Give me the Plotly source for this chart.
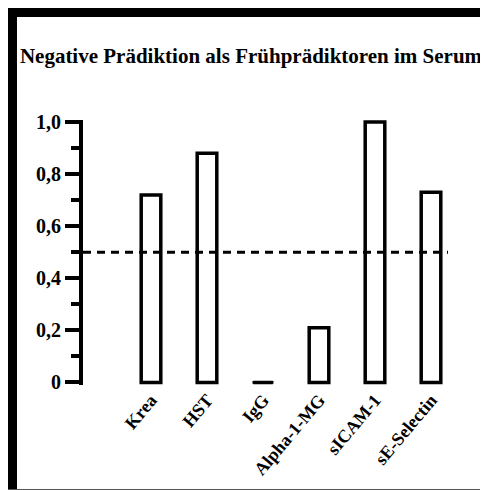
import plotly.graph_objects as go

# values
categories = ["Krea", "HST", "IgG", "Alpha-1-MG", "sICAM-1", "sE-Selectin"]
values = [0.72, 0.88, 0.0, 0.21, 1.0, 0.73]
y_tickvals = [0, 0.2, 0.4, 0.6, 0.8, 1.0]
y_ticktext = ["0", "0,2", "0,4", "0,6", "0,8", "1,0"]
threshold = 0.5

title = "Negative Prädiktion als Frühprädiktoren im Serum"
serif = "Liberation Serif"
bar_w = 0.35
bar_line = dict(color="black", width=3.5)

W, H = 480, 482  # page body adds an 8px margin
# 0 sits at y=374, 1 at y=114; pad the range a little so bar outlines are not clipped
y_lo, y_hi = -0.01, 1.008
L, R = 75, 440
T, B = 114 - (y_hi - 1) * 260, 374 - y_lo * 260

fig = go.Figure()

fig.add_trace(
    go.Bar(
        x=categories,
        y=values,
        width=bar_w,
        marker=dict(color="white", line=bar_line),
        cliponaxis=False,
        showlegend=False,
    )
)

# zero-height bars are skipped by plotly; give them a hairline height so the outline shows
eps = 0.004
zeros = [(c, v) for c, v in zip(categories, values) if v == 0]
fig.add_trace(
    go.Bar(
        x=[c for c, _ in zeros],
        y=[eps] * len(zeros),
        base=[v - eps / 2 for _, v in zeros],
        width=bar_w,
        marker=dict(color="black", line=dict(color="black", width=1.5)),
        cliponaxis=False,
        showlegend=False,
        hoverinfo="skip",
    )
)

# frame: thick left/top border, thin grey bottom edge (paper coords)
px = lambda v: (v - L) / (R - L)
py = lambda v: (B - v) / (B - T)
shapes = [
    dict(type="line", xref="paper", yref="paper", x0=px(4.5), x1=px(4.5), y0=py(0), y1=py(H + 2),
         line=dict(color="black", width=9)),
    dict(type="line", xref="paper", yref="paper", x0=px(0), x1=px(W + 2), y0=py(4.5), y1=py(4.5),
         line=dict(color="black", width=9)),
    dict(type="line", xref="paper", yref="paper", x0=px(0), x1=px(W + 2), y0=py(H - 0.75), y1=py(H - 0.75),
         line=dict(color="#555555", width=1.5)),
    dict(type="line", xref="paper", yref="y", x0=0, x1=1, y0=threshold, y1=threshold,
         line=dict(color="black", width=3, dash="8px,6px")),
]

fig.update_layout(
    width=W,
    height=H,
    margin=dict(l=L, r=W - R, t=T, b=H - B),
    paper_bgcolor="white",
    plot_bgcolor="white",
    barmode="overlay",
    shapes=shapes,
    title=dict(
        text=title, x=243 / W, xanchor="center", xref="container",
        y=1 - 48 / H, yanchor="middle", yref="container",
        font=dict(family=serif, size=21, color="black", weight="bold"),
    ),
    xaxis=dict(
        range=[-1.2143, 5.3036],
        showline=False, showgrid=False, zeroline=False, ticks="",
        tickangle=-50,
        tickfont=dict(family=serif, size=18, color="black", weight="bold"),
    ),
    yaxis=dict(
        range=[y_lo, y_hi],
        tickvals=y_tickvals, ticktext=y_ticktext,
        showline=True, linecolor="black", linewidth=4,
        showgrid=False, zeroline=False,
        ticks="outside", ticklen=14, tickwidth=4, tickcolor="black",
        minor=dict(ticks="outside", ticklen=8, tickwidth=4, tickcolor="black", dtick=0.1, showgrid=False),
        tickfont=dict(family=serif, size=20, color="black", weight="bold"),
    ),
)

fig.write_html("out.html")
